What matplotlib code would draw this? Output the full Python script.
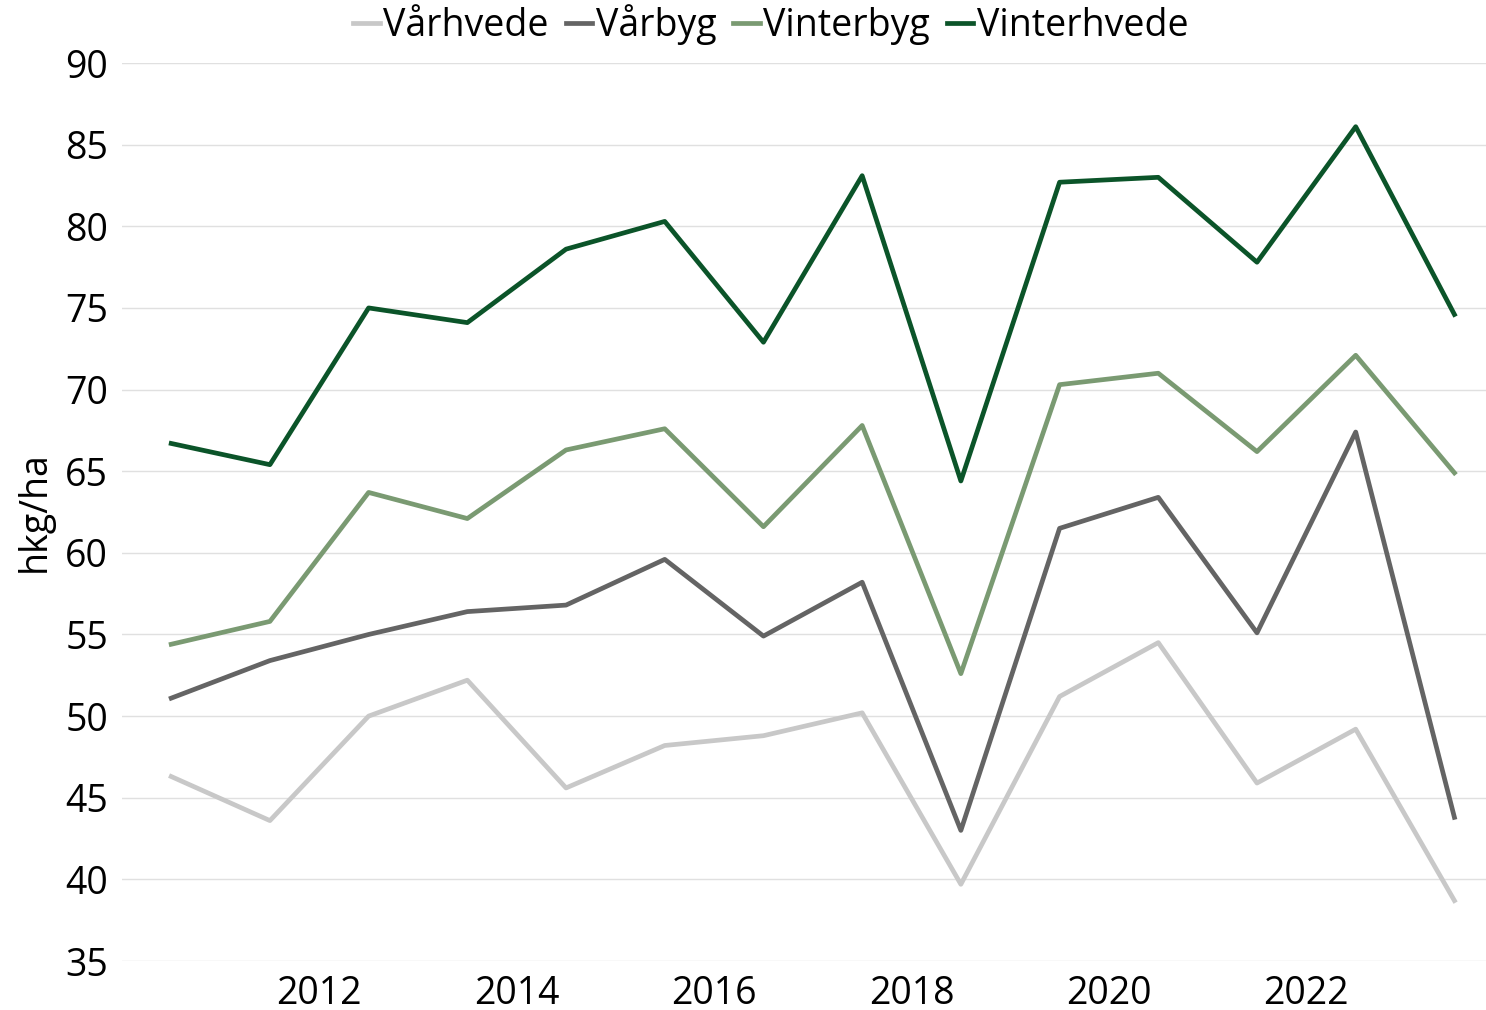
import numpy as np
import matplotlib.pyplot as plt

# hkg/ha per afgrøde, høstår 2010-2023
years = np.arange(2010, 2024)
vaarhvede = [46.3, 43.6, 50.0, 52.2, 45.6, 48.2, 48.8, 50.2, 39.7, 51.2, 54.5, 45.9, 49.2, 38.7]
vaarbyg = [51.1, 53.4, 55.0, 56.4, 56.8, 59.6, 54.9, 58.2, 43.0, 61.5, 63.4, 55.1, 67.4, 43.8]
vinterbyg = [54.4, 55.8, 63.7, 62.1, 66.3, 67.6, 61.6, 67.8, 52.6, 70.3, 71.0, 66.2, 72.1, 64.9]
vinterhvede = [66.7, 65.4, 75.0, 74.1, 78.6, 80.3, 72.9, 83.1, 64.4, 82.7, 83.0, 77.8, 86.1, 74.6]

series = [('Vårhvede', vaarhvede, '#c8c8c8'),
          ('Vårbyg', vaarbyg, '#646464'),
          ('Vinterbyg', vinterbyg, '#7a9a72'),
          ('Vinterhvede', vinterhvede, '#0b5429')]

plt.rcParams['font.family'] = ['Open Sans', 'DejaVu Sans']

fig = plt.figure(figsize=(14.86, 10.10), dpi=100)
ax = fig.add_axes([0.082, 0.0485, 0.918, 0.8891])

# punkterne ligger midt i året
for name, vals, col in series:
    ax.plot(years + 0.5, vals, color=col, lw=3.4, label=name)

ax.set_xlim(2010, 2023.82)
ax.set_ylim(35, 90)
ax.set_yticks(np.arange(35, 91, 5))
ax.set_xticks(np.arange(2012, 2023, 2))
ax.tick_params(axis='both', length=0, labelsize=27)
ax.tick_params(axis='y', pad=10)
ax.tick_params(axis='x', pad=10)
ax.grid(axis='y', color='#e0e0e0', lw=1)
ax.set_axisbelow(True)
for s in ax.spines.values():
    s.set_visible(False)
ax.set_ylabel('hkg/ha', fontsize=27, labelpad=8)

ax.legend(loc='center', bbox_to_anchor=(0.476, 1.043), ncol=4, frameon=False,
          fontsize=27, handlelength=0.7, handletextpad=0.1, columnspacing=0.45,
          borderaxespad=0)

fig.savefig('out.png', dpi=100)
